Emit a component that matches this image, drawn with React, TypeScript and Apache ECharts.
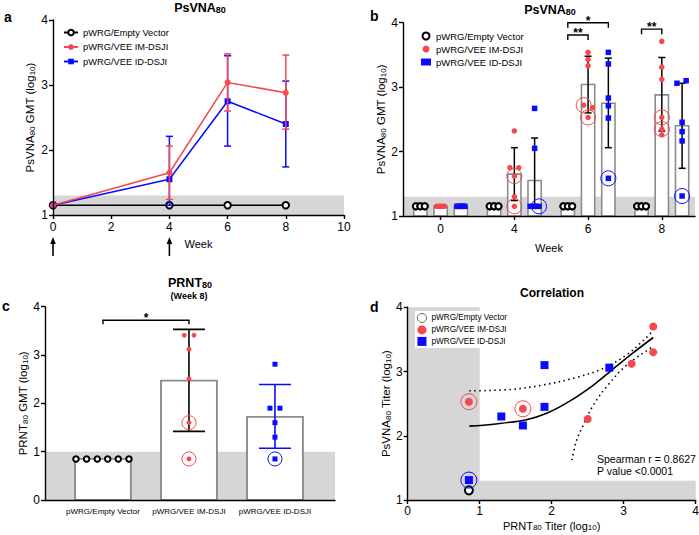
import React, { useEffect, useRef } from 'react';
import * as echarts from 'echarts';

const FONT = 'Liberation Sans, Arial, Helvetica, sans-serif';
const RED = '#f4484d';
const BLUE = '#0a0aff';
const BAND = '#d6d6d6';
const BAR_EDGE = '#8c8c8c';

// ---------- Panel a / b : PsVNA80 GMT ----------
const weeks = [0, 4, 6, 8];
const weekLabels = ['0', '4', '6', '8'];
const gmtEmpty = [1.15, 1.15, 1.15, 1.15];
const gmtIM = [1.15, 1.65, 3.04, 2.88];
const gmtID = [1.15, 1.55, 2.75, 2.4];
const sdLoIM = [1.15, 1.24, 2.6, 2.32];
const sdHiIM = [1.15, 2.06, 3.48, 3.46];
const sdLoID = [1.15, 1.15, 2.06, 1.74];
const sdHiID = [1.15, 2.21, 3.45, 3.06];
const doseWeeks = [0, 4];
const psvnaLimit = 1.3;

// individual animals: [week index, jitter, log10 titer]
const bEmptyPts = [
  [0, -0.06, 1.15], [0, -0.06, 1.15], [0, 0, 1.15], [0, 0, 1.15], [0, 0.06, 1.15], [0, 0.06, 1.15],
  [1, -0.06, 1.15], [1, -0.06, 1.15], [1, 0, 1.15], [1, 0, 1.15], [1, 0.06, 1.15], [1, 0.06, 1.15],
  [2, -0.06, 1.15], [2, -0.06, 1.15], [2, 0, 1.15], [2, 0, 1.15], [2, 0.06, 1.15], [2, 0.06, 1.15],
  [3, -0.06, 1.15], [3, -0.06, 1.15], [3, 0, 1.15], [3, 0, 1.15], [3, 0.06, 1.15], [3, 0.06, 1.15],
];
const bIMPts = [
  [0, -0.055, 1.15], [0, -0.033, 1.15], [0, -0.011, 1.15], [0, 0.011, 1.15], [0, 0.033, 1.15], [0, 0.055, 1.15],
  [1, 0, 2.32], [1, -0.06, 1.75], [1, 0.06, 1.75], [1, 0, 1.62], [1, 0, 1.3], [1, 0, 1.15],
  [2, 0, 3.54], [2, 0, 3.43], [2, 0, 3.33], [2, -0.06, 2.72], [2, 0.06, 2.68], [2, 0, 2.53],
  [3, 0, 3.71], [3, 0, 3.31], [3, 0, 3.12], [3, 0, 2.53], [3, 0, 2.35], [3, 0, 2.26],
];
const bIDPts = [
  [0, -0.055, 1.15], [0, -0.033, 1.15], [0, -0.011, 1.15], [0, 0.011, 1.15], [0, 0.033, 1.15], [0, 0.055, 1.15],
  [1, 0, 2.67], [1, 0, 2.05], [1, -0.06, 1.15], [1, -0.02, 1.15], [1, 0.02, 1.15], [1, 0.06, 1.15],
  [2, 0, 3.54], [2, 0, 3.36], [2, 0, 2.83], [2, 0, 2.71], [2, 0, 2.52], [2, 0, 1.585],
  [3, -0.07, 3.06], [3, 0.055, 3.1], [3, 0, 2.455], [3, 0, 2.31], [3, 0, 2.165], [3, 0, 1.31],
];
const bRingIM = [[1, 0, 1.62], [1, 0, 1.15], [2, -0.06, 2.72], [2, 0, 2.53], [3, 0, 2.53], [3, 0, 2.35]];
const bRingID = [[1, 0.06, 1.15], [2, 0, 1.585], [3, 0, 1.31]];
// significance: [week index, from group, to group, y]
const bSig = [[2, 0, 1, 3.81], [2, 0, 2, 4.0], [3, 0, 1, 3.9]];
const bSigLabels = ['**', '*', '**'];

// ---------- Panel c : PRNT80 week 8 ----------
const groupsC = ['pWRG/Empty Vector', 'pWRG/VEE IM-DSJI', 'pWRG/VEE ID-DSJI'];
const prntGMT = [0.85, 2.47, 1.72];
const prntSdLo = [1.42, 1.07];
const prntSdHi = [3.53, 2.39];
const prntLimit = 1.0;
const cEmptyPts = [[-0.314, 0.85], [-0.19, 0.85], [-0.066, 0.85], [0.055, 0.85], [0.178, 0.85], [0.302, 0.85]];
const cIMPts = [[-0.055, 3.41], [0.058, 3.41], [0, 3.12], [0, 2.51], [0, 1.6], [0, 0.85]];
const cIDPts = [[0, 2.81], [-0.058, 1.9], [0.058, 1.9], [0, 1.6], [0, 1.3], [0, 0.85]];
const cRingIM = [[0, 1.6], [0, 0.85]];
const cRingID = [[0, 0.85]];
const cSig = [[1, 2, 3.72]];
const cSigLabels = ['*'];

// ---------- Panel d : correlation ----------
const dEmpty = [[0.85, 1.15]];
const dIM = [[0.85, 2.53], [1.6, 2.42], [2.5, 2.26], [3.11, 3.12], [3.41, 3.7], [3.41, 3.3]];
const dID = [[0.85, 1.31], [1.3, 2.3], [1.6, 2.16], [1.9, 2.45], [1.9, 3.1], [2.8, 3.06]];
const dRingIM = [[0.85, 2.53], [1.6, 2.42]];
const dRingID = [[0.85, 1.31]];
const fitLine = [[0.856, 2.15], [1.19, 2.18], [1.65, 2.25], [1.93, 2.35], [2.25, 2.54], [2.58, 2.79], [2.81, 3.0], [3.13, 3.29], [3.41, 3.53]];
const ciUpper = [[0.856, 2.7], [1.42, 2.72], [1.88, 2.79], [2.35, 2.91], [2.72, 3.05], [3.04, 3.26], [3.27, 3.48], [3.41, 3.64]];
const ciLower = [[2.28, 1.62], [2.34, 1.91], [2.44, 2.17], [2.58, 2.48], [2.76, 2.76], [3.04, 3.1], [3.41, 3.39]];
const prntThreshold = 1.0;

// layout constants
const groupOffsets = [-0.275, 0, 0.275];
const barWidthB = 0.18;
const barWidthC = 0.65;
const xRangeB = [-0.51, 3.45];
const xRangeC = [0.326, 3.698];

const richSub = (fs: number, bold = false) => ({
  s: {
    fontSize: fs, fontFamily: FONT, fontWeight: bold ? 'bold' : 'normal',
    color: '#000', fill: '#000', verticalAlign: 'bottom', lineHeight: Math.round(fs * 0.75),
  },
});

const bandRender = (p: any, api: any) => {
  const a = api.coord([api.value(0), api.value(1)]);
  const b = api.coord([api.value(2), api.value(3)]);
  return {
    type: 'rect',
    shape: { x: Math.min(a[0], b[0]), y: Math.min(a[1], b[1]), width: Math.abs(b[0] - a[0]), height: Math.abs(b[1] - a[1]) },
    style: { fill: BAND },
  };
};

const barsRender = (w: number, base: number, lw: number) => (p: any, api: any) => {
  const x = api.value(0);
  const v = api.value(1);
  const a = api.coord([x - w / 2, v]);
  const b = api.coord([x + w / 2, base]);
  return {
    type: 'rect',
    shape: { x: a[0], y: a[1], width: b[0] - a[0], height: b[1] - a[1] },
    style: { fill: '#fff', stroke: BAR_EDGE, lineWidth: lw },
  };
};

const errRender = (color: string, cap: number, lw = 1.5) => (p: any, api: any) => {
  const x = api.value(0);
  const top = api.coord([x, api.value(2)]);
  const bot = api.coord([x, api.value(1)]);
  const h = cap / 2;
  const st = { stroke: color, lineWidth: lw, fill: 'none' };
  return {
    type: 'group',
    children: [
      { type: 'line', shape: { x1: top[0], y1: top[1], x2: bot[0], y2: bot[1] }, style: st },
      { type: 'line', shape: { x1: top[0] - h, y1: top[1], x2: top[0] + h, y2: top[1] }, style: st },
      { type: 'line', shape: { x1: bot[0] - h, y1: bot[1], x2: bot[0] + h, y2: bot[1] }, style: st },
    ],
  };
};

const bracketRender = (labels: string[], tick: number) => (p: any, api: any) => {
  const a = api.coord([api.value(0), api.value(2)]);
  const b = api.coord([api.value(1), api.value(2)]);
  return {
    type: 'group',
    children: [
      {
        type: 'polyline',
        shape: { points: [[a[0], a[1] + tick], [a[0], a[1]], [b[0], b[1]], [b[0], b[1] + tick]] },
        style: { stroke: '#000', lineWidth: 1.4, fill: 'none' },
      },
      {
        type: 'text',
        x: (a[0] + b[0]) / 2,
        y: a[1] - 2,
        style: {
          text: labels[p.dataIndex], fontSize: 12, fontFamily: FONT, fontWeight: 'bold', fill: '#000',
          textAlign: 'center', textVerticalAlign: 'middle',
        },
      },
    ],
  };
};

const arrowRender = (p: any, api: any) => {
  const pt = api.coord([api.value(0), api.value(1)]);
  const x = pt[0];
  const y0 = pt[1];
  return {
    type: 'group',
    children: [
      { type: 'line', shape: { x1: x, y1: y0 + 27, x2: x, y2: y0 + 41 }, style: { stroke: '#000', lineWidth: 1.6 } },
      { type: 'polygon', shape: { points: [[x, y0 + 22], [x - 2.8, y0 + 29], [x + 2.8, y0 + 29]] }, style: { fill: '#000' } },
    ],
  };
};

const axisLine = { show: true, onZero: false, lineStyle: { color: '#000', width: 1.4 } };
const axisTick = { show: true, length: 4, inside: false, lineStyle: { color: '#000', width: 1.4 } };
const nameStyle = (fs: number) => ({ color: '#000', fontSize: fs, fontFamily: FONT, rich: richSub(Math.round(fs * 0.72)) });
const labelStyle = (fs: number, margin: number) => ({ show: true, color: '#000', fontSize: fs, fontFamily: FONT, margin });

const strip = (n: string) => n.slice(2);

const titleText = (x: number, y: number, text: string, fs: number, bold = true, align = 'center') => ({
  type: 'text',
  x,
  y,
  style: {
    text, fontSize: fs, fontWeight: bold ? 'bold' : 'normal', fontFamily: FONT, fill: '#000',
    textAlign: align, textVerticalAlign: 'middle', rich: richSub(Math.round(fs * 0.72), bold),
  },
});

const dot = (color: string) => ({ color, opacity: 1 });
const ring = (color: string) => ({ color: 'rgba(0,0,0,0)', borderColor: color, borderWidth: 1, opacity: 1 });

function buildOption() {
  const gx = (g: number, grp: number, j: number) => g + groupOffsets[grp] + j;

  const series: any[] = [
    // ---------- Panel a ----------
    { type: 'custom', xAxisIndex: 0, yAxisIndex: 0, z: 1, silent: true, renderItem: bandRender, data: [[0, 1, 10, psvnaLimit]] },
    {
      type: 'line', name: 'a:pWRG/Empty Vector', xAxisIndex: 0, yAxisIndex: 0, z: 3,
      data: weeks.map((w, i) => [w, gmtEmpty[i]]), symbol: 'emptyCircle', symbolSize: 6.5,
      color: '#000', lineStyle: { color: '#000', width: 1.5 }, itemStyle: { color: '#000', borderWidth: 1.5 },
    },
    {
      type: 'custom', xAxisIndex: 0, yAxisIndex: 0, z: 4, silent: true, renderItem: errRender(BLUE, 7),
      data: weeks.slice(1).map((w, i) => [w, sdLoID[i + 1], sdHiID[i + 1]]),
    },
    {
      type: 'line', name: 'a:pWRG/VEE ID-DSJI', xAxisIndex: 0, yAxisIndex: 0, z: 5,
      data: weeks.map((w, i) => [w, gmtID[i]]), symbol: 'rect', symbolSize: 6,
      color: BLUE, lineStyle: { color: BLUE, width: 1.5 }, itemStyle: { color: BLUE },
    },
    {
      type: 'custom', xAxisIndex: 0, yAxisIndex: 0, z: 6, silent: true, renderItem: errRender(RED, 7),
      data: weeks.slice(1).map((w, i) => [w, sdLoIM[i + 1], sdHiIM[i + 1]]),
    },
    {
      type: 'line', name: 'a:pWRG/VEE IM-DSJI', xAxisIndex: 0, yAxisIndex: 0, z: 7,
      data: weeks.map((w, i) => [w, gmtIM[i]]), symbol: 'circle', symbolSize: 6,
      color: RED, lineStyle: { color: RED, width: 1.5 }, itemStyle: { color: RED },
    },
    { type: 'custom', xAxisIndex: 0, yAxisIndex: 0, z: 3, silent: true, clip: false, renderItem: arrowRender, data: doseWeeks.map((w) => [w, 1]) },

    // ---------- Panel b ----------
    { type: 'custom', xAxisIndex: 1, yAxisIndex: 1, z: 1, silent: true, renderItem: bandRender, data: [[xRangeB[0], 1, xRangeB[1], psvnaLimit]] },
    {
      type: 'custom', xAxisIndex: 1, yAxisIndex: 1, z: 2, silent: true, renderItem: barsRender(barWidthB, 1, 1.6),
      data: [
        ...weeks.map((w, g) => [gx(g, 0, 0), gmtEmpty[g]]),
        ...weeks.map((w, g) => [gx(g, 1, 0), gmtIM[g]]),
        ...weeks.map((w, g) => [gx(g, 2, 0), gmtID[g]]),
      ],
    },
    {
      type: 'custom', xAxisIndex: 1, yAxisIndex: 1, z: 3, silent: true, renderItem: errRender('#000', 7),
      data: [
        ...weeks.slice(1).map((w, i) => [gx(i + 1, 1, 0), sdLoIM[i + 1], sdHiIM[i + 1]]),
        ...weeks.slice(1).map((w, i) => [gx(i + 1, 2, 0), sdLoID[i + 1], sdHiID[i + 1]]),
      ],
    },
    {
      type: 'scatter', name: 'b:pWRG/Empty Vector', xAxisIndex: 1, yAxisIndex: 1, z: 4,
      symbol: 'emptyCircle', symbolSize: 6, color: '#000', itemStyle: { color: '#000', borderWidth: 1.5, opacity: 1 },
      data: bEmptyPts.map(([g, j, v]) => [gx(g, 0, j), v]),
    },
    {
      type: 'scatter', name: 'b:pWRG/VEE IM-DSJI', xAxisIndex: 1, yAxisIndex: 1, z: 4,
      symbol: 'circle', symbolSize: 5.5, color: RED, itemStyle: dot(RED),
      data: bIMPts.map(([g, j, v]) => [gx(g, 1, j), v]),
    },
    {
      type: 'scatter', name: 'b:pWRG/VEE ID-DSJI', xAxisIndex: 1, yAxisIndex: 1, z: 4,
      symbol: 'rect', symbolSize: 5.5, color: BLUE, itemStyle: dot(BLUE),
      data: bIDPts.map(([g, j, v]) => [gx(g, 2, j), v]),
    },
    {
      type: 'scatter', xAxisIndex: 1, yAxisIndex: 1, z: 5, silent: true, symbol: 'circle', symbolSize: 15,
      itemStyle: ring(RED), data: bRingIM.map(([g, j, v]) => [gx(g, 1, j), v]),
    },
    {
      type: 'scatter', xAxisIndex: 1, yAxisIndex: 1, z: 5, silent: true, symbol: 'circle', symbolSize: 15,
      itemStyle: ring(BLUE), data: bRingID.map(([g, j, v]) => [gx(g, 2, j), v]),
    },
    {
      type: 'custom', xAxisIndex: 1, yAxisIndex: 1, z: 6, silent: true, clip: false, renderItem: bracketRender(bSigLabels, 5),
      data: bSig.map(([g, a, b, y]) => [gx(g, a, 0), gx(g, b, 0), y]),
    },

    // ---------- Panel c ----------
    { type: 'custom', xAxisIndex: 2, yAxisIndex: 2, z: 1, silent: true, renderItem: bandRender, data: [[xRangeC[0], 0, xRangeC[1], prntLimit]] },
    {
      type: 'custom', xAxisIndex: 2, yAxisIndex: 2, z: 2, silent: true, renderItem: barsRender(barWidthC, 0, 1.9),
      data: prntGMT.map((v, i) => [i + 1, v]),
    },
    {
      type: 'custom', xAxisIndex: 2, yAxisIndex: 2, z: 3, silent: true, renderItem: errRender('#000', 32, 1.6),
      data: [[2, prntSdLo[0], prntSdHi[0]]],
    },
    {
      type: 'custom', xAxisIndex: 2, yAxisIndex: 2, z: 3, silent: true, renderItem: errRender(BLUE, 32, 1.6),
      data: [[3, prntSdLo[1], prntSdHi[1]]],
    },
    {
      type: 'scatter', xAxisIndex: 2, yAxisIndex: 2, z: 4, symbol: 'emptyCircle', symbolSize: 5.5,
      itemStyle: { color: '#000', borderWidth: 1.5, opacity: 1 }, data: cEmptyPts.map(([j, v]) => [1 + j, v]),
    },
    {
      type: 'scatter', xAxisIndex: 2, yAxisIndex: 2, z: 4, symbol: 'circle', symbolSize: 4.8,
      itemStyle: dot(RED), data: cIMPts.map(([j, v]) => [2 + j, v]),
    },
    {
      type: 'scatter', xAxisIndex: 2, yAxisIndex: 2, z: 4, symbol: 'rect', symbolSize: 5,
      itemStyle: dot(BLUE), data: cIDPts.map(([j, v]) => [3 + j, v]),
    },
    {
      type: 'scatter', xAxisIndex: 2, yAxisIndex: 2, z: 5, silent: true, symbol: 'circle', symbolSize: 14,
      itemStyle: ring(RED), data: cRingIM.map(([j, v]) => [2 + j, v]),
    },
    {
      type: 'scatter', xAxisIndex: 2, yAxisIndex: 2, z: 5, silent: true, symbol: 'circle', symbolSize: 14,
      itemStyle: ring(BLUE), data: cRingID.map(([j, v]) => [3 + j, v]),
    },
    {
      type: 'custom', xAxisIndex: 2, yAxisIndex: 2, z: 6, silent: true, clip: false, renderItem: bracketRender(cSigLabels, 4),
      data: cSig,
    },

    // ---------- Panel d ----------
    {
      type: 'custom', xAxisIndex: 3, yAxisIndex: 3, z: 1, silent: true, renderItem: bandRender,
      data: [[0, 1, prntThreshold, 4], [0, 1, 4, psvnaLimit]],
    },
    {
      type: 'line', xAxisIndex: 3, yAxisIndex: 3, z: 3, silent: true, smooth: 0.35, showSymbol: false, symbol: 'none',
      lineStyle: { color: '#000', width: 1.6, type: [1.5, 3.5] }, data: ciUpper,
    },
    {
      type: 'line', xAxisIndex: 3, yAxisIndex: 3, z: 3, silent: true, smooth: 0.35, showSymbol: false, symbol: 'none',
      lineStyle: { color: '#000', width: 1.6, type: [1.5, 3.5] }, data: ciLower,
    },
    {
      type: 'line', xAxisIndex: 3, yAxisIndex: 3, z: 3, silent: true, smooth: 0.35, showSymbol: false, symbol: 'none',
      lineStyle: { color: '#000', width: 1.6 }, data: fitLine,
    },
    {
      type: 'scatter', name: 'd:pWRG/Empty Vector', xAxisIndex: 3, yAxisIndex: 3, z: 4, symbol: 'emptyCircle', symbolSize: 8,
      color: '#000', itemStyle: { color: '#000', borderWidth: 1.5, opacity: 1 }, data: dEmpty,
    },
    {
      type: 'scatter', name: 'd:pWRG/VEE IM-DSJI', xAxisIndex: 3, yAxisIndex: 3, z: 4, symbol: 'circle', symbolSize: 8,
      color: RED, itemStyle: dot(RED), data: dIM,
    },
    {
      type: 'scatter', name: 'd:pWRG/VEE ID-DSJI', xAxisIndex: 3, yAxisIndex: 3, z: 4, symbol: 'rect', symbolSize: 8,
      color: BLUE, itemStyle: dot(BLUE), data: dID,
    },
    {
      type: 'scatter', xAxisIndex: 3, yAxisIndex: 3, z: 5, silent: true, symbol: 'circle', symbolSize: 16,
      itemStyle: ring(RED), data: dRingIM,
    },
    {
      type: 'scatter', xAxisIndex: 3, yAxisIndex: 3, z: 5, silent: true, symbol: 'circle', symbolSize: 16,
      itemStyle: ring(BLUE), data: dRingID,
    },
  ];

  const gridBase = { outerBoundsMode: 'none', containLabel: false, show: false };

  return {
    animation: false,
    backgroundColor: '#fff',
    textStyle: { fontFamily: FONT, color: '#000' },
    tooltip: { show: false },
    grid: [
      { ...gridBase, left: 53, top: 20, width: 291, height: 195 },
      { ...gridBase, left: 403, top: 22.7, width: 292, height: 193.3 },
      { ...gridBase, left: 45, top: 306.7, width: 290, height: 193.3 },
      { ...gridBase, left: 407.7, top: 307.3, width: 288, height: 192.7 },
    ],
    xAxis: [
      {
        gridIndex: 0, type: 'value', min: 0, max: 10, interval: 2, z: 10,
        axisLine, axisTick, axisLabel: labelStyle(12, 6), splitLine: { show: false },
        name: 'Week', nameLocation: 'middle', nameGap: 23, nameTextStyle: nameStyle(11),
      },
      {
        gridIndex: 1, type: 'value', min: xRangeB[0], max: xRangeB[1], z: 10,
        axisLine, axisTick: { ...axisTick, customValues: [0, 1, 2, 3] },
        axisLabel: { ...labelStyle(12, 7), customValues: [0, 1, 2, 3], formatter: (v: number) => weekLabels[Math.round(v)] },
        splitLine: { show: false },
        name: 'Week', nameLocation: 'middle', nameGap: 26, nameTextStyle: nameStyle(11),
      },
      {
        gridIndex: 2, type: 'value', min: xRangeC[0], max: xRangeC[1], z: 10,
        axisLine, axisTick: { show: false },
        axisLabel: { ...labelStyle(8, 7), customValues: [1, 2, 3], formatter: (v: number) => groupsC[Math.round(v) - 1] },
        splitLine: { show: false },
      },
      {
        gridIndex: 3, type: 'value', min: 0, max: 4, interval: 1, z: 10,
        axisLine, axisTick, axisLabel: labelStyle(12, 5), splitLine: { show: false },
        name: 'PRNT{s|80} Titer (log{s|10})', nameLocation: 'middle', nameGap: 20, nameTextStyle: nameStyle(11),
      },
    ],
    yAxis: [
      {
        gridIndex: 0, type: 'value', min: 1, max: 4, interval: 1, z: 10,
        axisLine, axisTick, axisLabel: labelStyle(12, 5), splitLine: { show: false },
        name: 'PsVNA{s|80} GMT (log{s|10})', nameLocation: 'middle', nameGap: 17, nameTextStyle: nameStyle(11.5),
      },
      {
        gridIndex: 1, type: 'value', min: 1, max: 4, interval: 1, z: 10,
        axisLine, axisTick, axisLabel: labelStyle(12, 5), splitLine: { show: false },
        name: 'PsVNA{s|80} GMT (log{s|10})', nameLocation: 'middle', nameGap: 8, nameTextStyle: nameStyle(11.5),
      },
      {
        gridIndex: 2, type: 'value', min: 0, max: 4, interval: 1, z: 10,
        axisLine, axisTick, axisLabel: labelStyle(12, 5), splitLine: { show: false },
        name: 'PRNT{s|80} GMT (log{s|10})', nameLocation: 'middle', nameGap: 16, nameTextStyle: nameStyle(11.5),
      },
      {
        gridIndex: 3, type: 'value', min: 1, max: 4, interval: 1, z: 10,
        axisLine, axisTick, axisLabel: labelStyle(12, 5), splitLine: { show: false },
        name: 'PsVNA{s|80} Titer (log{s|10})', nameLocation: 'middle', nameGap: 12, nameTextStyle: nameStyle(11.5),
      },
    ],
    legend: [
      {
        orient: 'vertical', left: 63, top: 28, padding: 0, itemGap: 5.5, itemWidth: 14, itemHeight: 7,
        selectedMode: false, formatter: strip, textStyle: { fontSize: 9.3, color: '#000', fontFamily: FONT },
        data: ['a:pWRG/Empty Vector', 'a:pWRG/VEE IM-DSJI', 'a:pWRG/VEE ID-DSJI'],
      },
      {
        orient: 'vertical', left: 421, top: 31, padding: 0, itemGap: 3, itemWidth: 10, itemHeight: 7,
        selectedMode: false, formatter: strip, textStyle: { fontSize: 9.5, color: '#000', fontFamily: FONT },
        data: ['b:pWRG/Empty Vector', 'b:pWRG/VEE IM-DSJI', 'b:pWRG/VEE ID-DSJI'],
      },
      {
        orient: 'vertical', left: 415, top: 311, padding: [2, 4, 2, 2], itemGap: 2.5, itemWidth: 9, itemHeight: 9,
        backgroundColor: '#fff', selectedMode: false, formatter: strip,
        textStyle: { fontSize: 8.2, color: '#000', fontFamily: FONT },
        data: [
          { name: 'd:pWRG/Empty Vector', icon: 'circle', itemStyle: { color: '#fff', borderColor: '#555', borderWidth: 0.9 } },
          'd:pWRG/VEE IM-DSJI',
          'd:pWRG/VEE ID-DSJI',
        ],
      },
    ],
    graphic: [
      titleText(4, 17, 'a', 14, true, 'left'),
      titleText(200, 8, 'PsVNA{s|80}', 12.5),
      titleText(370, 16, 'b', 14, true, 'left'),
      titleText(550, 10, 'PsVNA{s|80}', 12.5),
      titleText(2, 306, 'c', 14, true, 'left'),
      titleText(190, 283, 'PRNT{s|80}', 12.5),
      titleText(189, 296, '(Week 8)', 9),
      titleText(370, 307, 'd', 14, true, 'left'),
      titleText(552, 293, 'Correlation', 12),
      titleText(597, 459, 'Spearman r = 0.8627', 10.5, false, 'left'),
      titleText(597, 471, 'P value <0.0001', 10.5, false, 'left'),
    ],
    series,
  };
}

export default function App() {
  const ref = useRef<HTMLDivElement>(null);
  useEffect(() => {
    document.body.style.margin = '0';
    if (!ref.current) return;
    const chart = echarts.init(ref.current, undefined, { renderer: 'svg' });
    chart.setOption(buildOption() as any);
    return () => chart.dispose();
  }, []);
  return (
    <div
      ref={ref}
      style={{ position: 'absolute', left: 0, top: 0, width: 699, height: 535, background: '#fff' }}
    />
  );
}
